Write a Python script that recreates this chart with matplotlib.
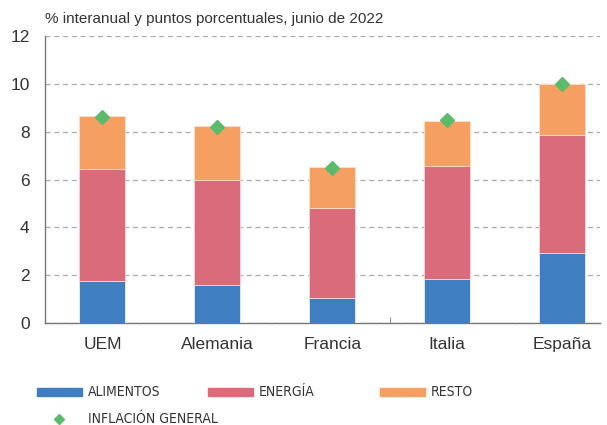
import numpy as np
import matplotlib
matplotlib.use("Agg")
import matplotlib.pyplot as plt
from matplotlib.lines import Line2D

# === Daten ===
paises = ["UEM", "Alemania", "Francia", "Italia", "España"]
alimentos = [1.76, 1.59, 1.06, 1.83, 2.92]
energia = [4.68, 4.39, 3.76, 4.75, 4.92]
resto = [2.22, 2.26, 1.71, 1.87, 2.17]
inflacion = [8.6, 8.2, 6.5, 8.5, 10.0]

c_blue = "#3F7FC1"
c_red = "#D96B7A"
c_orange = "#F69F62"
c_green = "#5CBB6A"
c_text = "#333333"

plt.rcParams["font.family"] = ["Liberation Sans", "DejaVu Sans"]

fig = plt.figure(figsize=(6.07, 4.25), dpi=100)
ax = fig.add_axes([45 / 607, 1 - 323 / 425, 555 / 607, 287 / 425])

x = np.arange(len(paises))
w = 0.4
b1 = np.array(alimentos)
b2 = b1 + np.array(energia)
ax.bar(x, alimentos, w, color=c_blue, edgecolor="#e8eef8", linewidth=0.6, zorder=3)
ax.bar(x, energia, w, bottom=b1, color=c_red, edgecolor="#f5d6da", linewidth=0.6, zorder=3)
ax.bar(x, resto, w, bottom=b2, color=c_orange, edgecolor="#fde0cc", linewidth=0.6, zorder=3)
ax.plot(x, inflacion, linestyle="none", marker="D", markersize=7.5, color=c_green, zorder=4)

ax.set_xlim(-0.5, 4.33)
ax.set_ylim(0, 12)
ax.set_yticks(range(0, 13, 2))
ax.yaxis.grid(True, linestyle=(0, (4, 3)), color="#aaaaaa", linewidth=0.9, zorder=0)
ax.set_xticks(x)
ax.set_xticklabels(paises)
ax.set_xticks([2.5], minor=True)
ax.tick_params(axis="x", which="minor", length=4, direction="in", color="#777777")
ax.tick_params(axis="both", which="major", length=0, labelsize=12.5, colors=c_text)
ax.tick_params(axis="y", pad=11)
ax.tick_params(axis="x", pad=10)
for s in ["top", "right"]:
    ax.spines[s].set_visible(False)
for s in ["left", "bottom"]:
    ax.spines[s].set_color("#777777")
    ax.spines[s].set_linewidth(1.0)

fig.text(45 / 607, 1 - 19 / 425, "% interanual y puntos porcentuales, junio de 2022",
         fontsize=11, color=c_text, va="center", ha="left")

# === Legende (schmale Schrift) ===
legfont = dict(family=["DejaVu Sans"], fontstretch="condensed",
               fontsize=10, color=c_text, va="center", ha="left")
items = [(37, c_blue, "ALIMENTOS"), (208, c_red, "ENERGÍA"), (380, c_orange, "RESTO")]
for x0, col, lab in items:
    fig.patches.append(plt.Rectangle((x0 / 607, 1 - 396 / 425), 45 / 607, 8 / 425,
                                     transform=fig.transFigure, color=col))
    fig.text((x0 + 51) / 607, 1 - 392 / 425, lab, **legfont)
fig.lines.append(Line2D([59 / 607], [1 - 419 / 425], transform=fig.transFigure,
                        marker="D", markersize=5, color=c_green, linestyle="none"))
fig.text(88 / 607, 1 - 419 / 425, "INFLACIÓN GENERAL", **legfont)

fig.savefig("out.png", dpi=100)
